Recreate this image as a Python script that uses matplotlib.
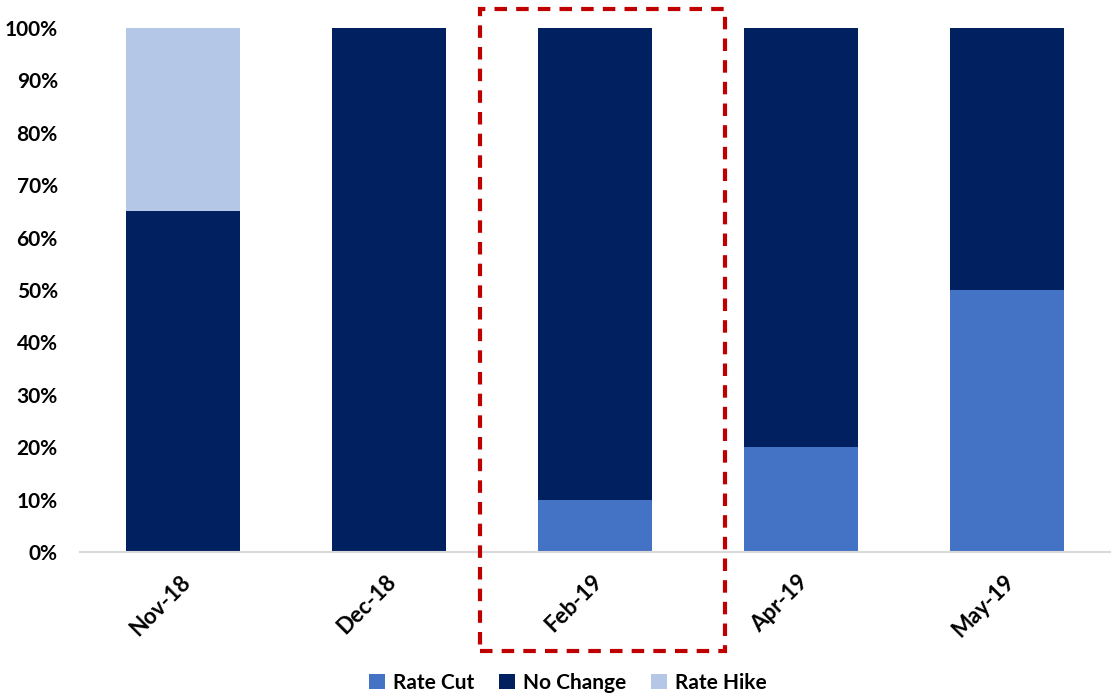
import matplotlib.pyplot as plt
from matplotlib.patches import Rectangle
import numpy as np

months = ['Nov-18', 'Dec-18', 'Feb-19', 'Apr-19', 'May-19']
rate_cut = [0, 0, 10, 20, 50]
no_change = [65, 100, 90, 80, 50]
rate_hike = [35, 0, 0, 0, 0]

plt.rcParams['font.family'] = ['Lato', 'DejaVu Sans']
plt.rcParams['font.weight'] = 'bold'

fig = plt.figure(figsize=(11.12, 6.97), dpi=100)
ax = fig.add_axes([80 / 1112, 1 - 552 / 697, 1030 / 1112, 524 / 697])

x = np.arange(len(months))
w = 0.55
b1 = np.array(rate_cut)
b2 = b1 + np.array(no_change)
ax.bar(x, rate_cut, w, color='#4472C4', label='Rate Cut')
ax.bar(x, no_change, w, bottom=b1, color='#002060', label='No Change')
ax.bar(x, rate_hike, w, bottom=b2, color='#B4C7E7', label='Rate Hike')

ax.set_xlim(-0.5, len(months) - 0.5)
ax.set_ylim(0, 100)
ax.set_yticks(range(0, 101, 10))
ax.set_yticklabels([f'{v}%' for v in range(0, 101, 10)], fontsize=15, fontweight='bold')
ax.set_xticks(x)
ax.set_xticklabels(months, rotation=45, ha='right', va='center', rotation_mode='anchor',
                   fontsize=16, fontweight='bold')
ax.tick_params(axis='y', length=0, pad=16)
ax.tick_params(axis='x', length=0, pad=19)
# nudge x labels a little right to sit like the original
import matplotlib.transforms as mtrans
for lbl in ax.get_xticklabels():
    lbl.set_transform(lbl.get_transform() + mtrans.ScaledTranslation(4 / 100, 0, fig.dpi_scale_trans))

for s in ['top', 'right', 'left']:
    ax.spines[s].set_visible(False)
ax.spines['bottom'].set_color('#D9D9D9')
ax.spines['bottom'].set_linewidth(1.5)

# highlight box around Feb-19
box = Rectangle((1.442, -18.9), 2.631 - 1.442, 103.6 + 18.9, fill=False,
                edgecolor='#C00000', linewidth=3, linestyle=(0, (3, 2.2)),
                clip_on=False, zorder=5)
ax.add_patch(box)

leg = fig.legend(loc='center', bbox_to_anchor=(568 / 1112, 1 - 683 / 697), ncol=3,
                 frameon=False, fontsize=15, handlelength=0.75, handleheight=0.75,
                 columnspacing=1.2, handletextpad=0.4)

fig.savefig('out.png', dpi=100)
